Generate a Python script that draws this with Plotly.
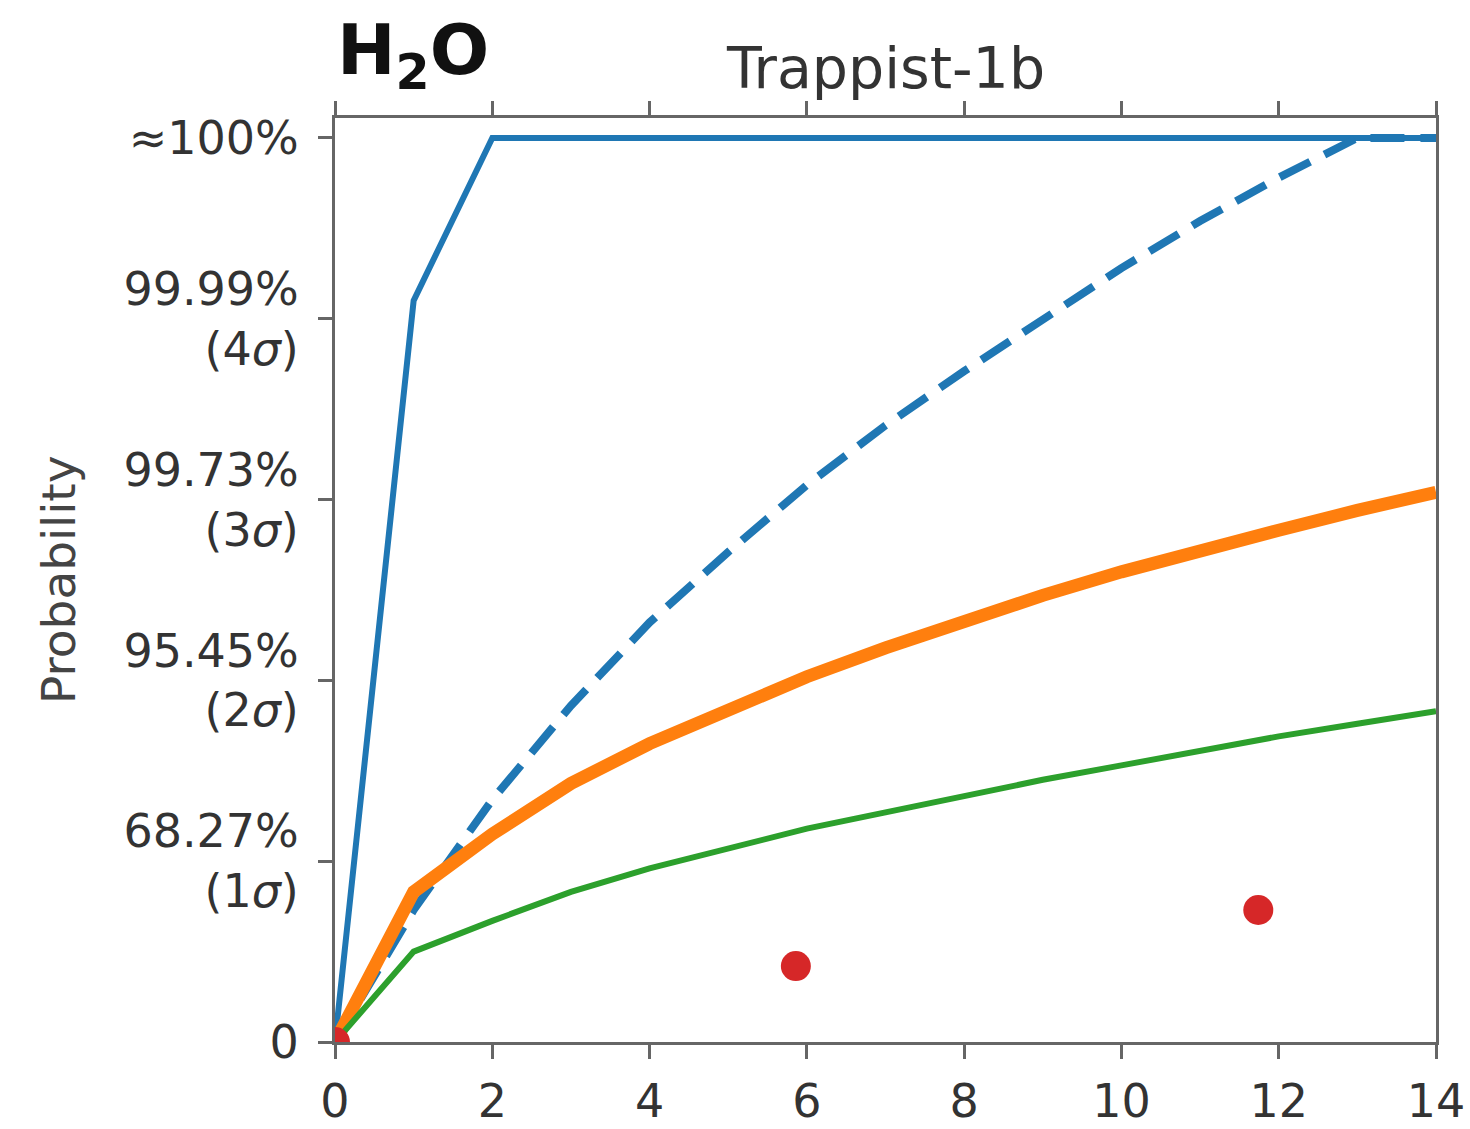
import plotly.graph_objects as go

# Number of observed transits
transits = [0, 1, 2, 3, 4, 5, 6, 7, 8, 9, 10, 11, 12, 13, 14]

# Detection significance, in sigma units (5 = ~100%)
sig_solid_blue = [0, 4.10, 5.0, 5.0, 5.0, 5.0, 5.0, 5.0, 5.0, 5.0, 5.0, 5.0, 5.0, 5.0, 5.0]
sig_dashed_blue = [0, 0.73, 1.34, 1.86, 2.32, 2.71, 3.08, 3.41, 3.71, 4.00, 4.28, 4.54, 4.78, 5.0, 5.0]
sig_orange = [0, 0.83, 1.15, 1.43, 1.65, 1.84, 2.02, 2.18, 2.33, 2.47, 2.60, 2.72, 2.83, 2.94, 3.04]
sig_green = [0, 0.50, 0.67, 0.83, 0.96, 1.07, 1.18, 1.27, 1.36, 1.45, 1.53, 1.61, 1.69, 1.76, 1.83]

# Individual points
pts_x = [0, 5.86, 11.74]
pts_y = [0, 0.42, 0.73]

# Axis ticks
x_ticks = [0, 2, 4, 6, 8, 10, 12, 14]
y_ticks = [0, 1, 2, 3, 4, 5]
y_ticktext = [
    "0",
    "68.27%<br>(1<i>σ</i>)",
    "95.45%<br>(2<i>σ</i>)",
    "99.73%<br>(3<i>σ</i>)",
    "99.99%<br>(4<i>σ</i>)",
    "≈100%",
]

BLUE = "#1f77b4"
ORANGE = "#ff7f0e"
GREEN = "#2ca02c"
RED = "#d62728"
AXIS = "#666666"
TEXT = "#333333"
FONT = "DejaVu Sans"

fig = go.Figure()
fig.add_trace(go.Scatter(x=transits, y=sig_solid_blue, mode="lines",
                         line=dict(color=BLUE, width=6)))
fig.add_trace(go.Scatter(x=transits, y=sig_dashed_blue, mode="lines",
                         line=dict(color=BLUE, width=8, dash="34px,16px")))
fig.add_trace(go.Scatter(x=transits, y=sig_orange, mode="lines",
                         line=dict(color=ORANGE, width=13)))
fig.add_trace(go.Scatter(x=transits, y=sig_green, mode="lines",
                         line=dict(color=GREEN, width=6)))
fig.add_trace(go.Scatter(x=pts_x, y=pts_y, mode="markers",
                         marker=dict(color=RED, size=30, line=dict(width=0))))

fig.update_layout(
    width=1470, height=1129,
    margin=dict(l=335, r=34, t=118, b=87),
    paper_bgcolor="white", plot_bgcolor="white",
    showlegend=False,
    font=dict(family=FONT, color=TEXT, size=46),
    xaxis=dict(
        range=[0, 14], tickvals=x_ticks, ticktext=[str(v) for v in x_ticks],
        showgrid=False, zeroline=False, automargin=False,
        showline=True, linecolor=AXIS, linewidth=3, mirror="ticks",
        ticks="outside", ticklen=14, tickwidth=3, tickcolor=AXIS,
        tickfont=dict(size=46, color=TEXT), ticklabelstandoff=3,
    ),
    yaxis=dict(
        range=[0, 5.11], tickvals=y_ticks, ticktext=y_ticktext,
        showgrid=False, zeroline=False, automargin=False,
        showline=True, linecolor=AXIS, linewidth=3, mirror=True,
        ticks="outside", ticklen=14, tickwidth=3, tickcolor=AXIS,
        tickfont=dict(size=46, color=TEXT), ticklabelstandoff=10,
    ),
    annotations=[
        dict(text="<b>H<sub>2</sub>O</b>", xref="paper", yref="paper",
             x=0, y=(1042 - 55) / 924, xanchor="left", yanchor="middle",
             showarrow=False, font=dict(size=70, color="#111111", family=FONT)),
        dict(text="Trappist-1b", xref="paper", yref="paper",
             x=0.5, y=(1042 - 68) / 924, xanchor="center", yanchor="middle",
             showarrow=False, font=dict(size=57, color=TEXT, family=FONT)),
        dict(text="Probability", xref="paper", yref="paper",
             x=(58 - 335) / 1101, y=0.5, xanchor="center", yanchor="middle",
             textangle=-90, showarrow=False,
             font=dict(size=47, color="#444444", family=FONT)),
    ],
)

fig.write_html("out.html")
